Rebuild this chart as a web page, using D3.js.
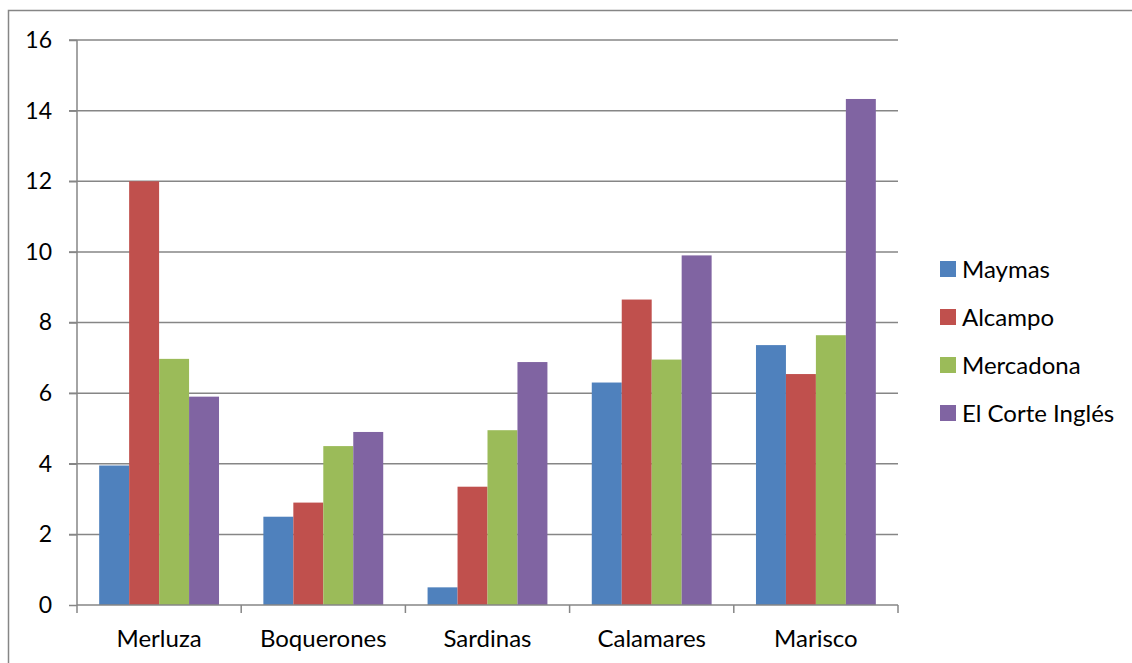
<!DOCTYPE html>
<html>
<head>
<meta charset="utf-8">
<script src="https://cdn.jsdelivr.net/npm/d3@7"></script>
<style>
  body { margin: 0; background: #fff; }
  text { font-family: Lato, "Open Sans", sans-serif; fill: #000; }
</style>
</head>
<body>
<div id="chart"></div>
<script>
const width = 1132
const height = 663

// datos
const categories = ["Merluza", "Boquerones", "Sardinas", "Calamares", "Marisco"]
const series = ["Maymas", "Alcampo", "Mercadona", "El Corte Inglés"]
const maymas = [3.95, 2.5, 0.5, 6.3, 7.36]
const alcampo = [12, 2.9, 3.35, 8.65, 6.54]
const mercadona = [6.97, 4.5, 4.95, 6.95, 7.64]
const corteIngles = [5.9, 4.9, 6.88, 9.9, 14.33]
const yTicks = [0, 2, 4, 6, 8, 10, 12, 14, 16]
const colors = ["#4f81bd", "#c0504d", "#9bbb59", "#8064a2"]

const values = [maymas, alcampo, mercadona, corteIngles]

const plot = { left: 77, right: 898, top: 40, bottom: 605 }
const grey = "#868686"

const svg = d3.select("div#chart")
    .append("svg")
    .attr("width", width)
    .attr("height", height)

// borde del área del gráfico (solo arriba e izquierda visibles)
svg.append("path")
    .attr("d", `M8.5,${height} V10.5 H${width}`)
    .attr("fill", "none")
    .attr("stroke", grey)
    .attr("stroke-width", 1.5)

const x = d3.scaleBand().domain(categories).range([plot.left, plot.right])
const x1 = d3.scaleBand().domain(series).range([0, x.bandwidth()]).paddingOuter(0.74).paddingInner(0)
const y = d3.scaleLinear().domain([0, 16]).range([plot.bottom, plot.top])

// rejilla
svg.append("g")
    .selectAll("line").data(yTicks.filter(d => d > 0))
    .join("line")
    .attr("x1", plot.left - 8).attr("x2", plot.right)
    .attr("y1", d => y(d)).attr("y2", d => y(d))
    .attr("stroke", grey).attr("stroke-width", 1.5)

// barras
const groups = svg.append("g")
    .selectAll("g").data(categories)
    .join("g")
    .attr("transform", d => `translate(${x(d)},0)`)

groups.selectAll("rect")
    .data((c, i) => series.map((s, j) => ({ s, j, v: values[j][i] })))
    .join("rect")
    .attr("x", d => x1(d.s))
    .attr("width", x1.bandwidth())
    .attr("y", d => y(d.v))
    .attr("height", d => y(0) - y(d.v))
    .attr("fill", d => colors[d.j])

// eje Y
const yAxis = d3.axisLeft(y).tickValues(yTicks).tickSize(8).tickPadding(17)
const yg = svg.append("g").attr("transform", `translate(${plot.left},0)`).call(yAxis)
yg.select(".domain").attr("stroke", grey).attr("stroke-width", 1.5)
    .attr("d", `M0,${plot.top}V${plot.bottom}`)
yg.selectAll(".tick line").attr("stroke", grey).attr("stroke-width", 1.5)
yg.selectAll(".tick text").attr("font-size", 23).attr("font-family", "Lato").attr("fill", "#000")

// eje X
const xAxis = d3.axisBottom(x).tickSize(0).tickPadding(25)
const xg = svg.append("g").attr("transform", `translate(0,${plot.bottom})`).call(xAxis)
xg.select(".domain").attr("stroke", grey).attr("stroke-width", 1.5)
    .attr("d", `M${plot.left},0H${plot.right}`)
xg.selectAll(".tick text").attr("font-size", 24).attr("font-family", "Lato").attr("fill", "#000")

// marcas entre categorías
const bounds = categories.map(c => x(c)).concat([plot.right])
xg.selectAll(".sep").data(bounds)
    .join("line")
    .attr("class", "sep")
    .attr("x1", d => d).attr("x2", d => d)
    .attr("y1", 0).attr("y2", 8)
    .attr("stroke", grey).attr("stroke-width", 1.5)

// leyenda
const legend = svg.append("g")
    .selectAll("g").data(series)
    .join("g")
    .attr("transform", (d, i) => `translate(940,${269 + i * 48})`)

legend.append("rect")
    .attr("x", 0).attr("y", -8)
    .attr("width", 16).attr("height", 16)
    .attr("fill", (d, i) => colors[i])

legend.append("text")
    .attr("x", 22).attr("y", 0)
    .attr("dy", "0.36em")
    .attr("font-size", 24)
    .text(d => d)
</script>
</body>
</html>
